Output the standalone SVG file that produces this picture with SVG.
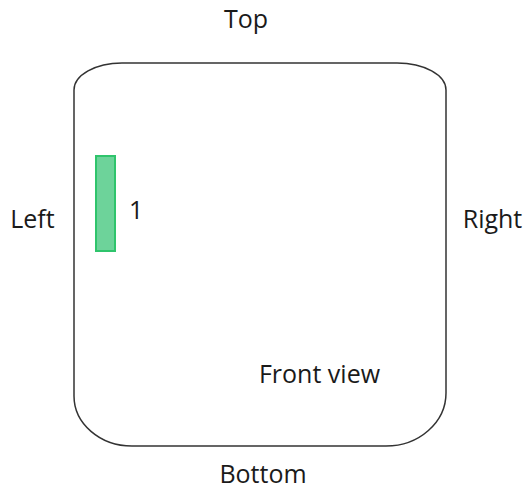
<svg xmlns="http://www.w3.org/2000/svg" width="530" height="494" viewBox="0 0 530 494">
<style>
text{font-family:"Open Sans","Noto Sans","Liberation Sans",sans-serif;font-size:25px;fill:#1a1a1a}
.frame{fill:#fff;stroke:#333;stroke-width:1.5}
.bar{fill:#6dd39a;stroke:#2fc46c;stroke-width:2}
</style>
<rect width="530" height="494" fill="#fff"/>
<g id="front-view">
<path class="frame" d="M 122 63 L 397 63 A 49 27 0 0 1 446 90 L 446 393 A 60 53 0 0 1 386 446 L 132 446 A 58 50 0 0 1 74 396 L 74 90 A 48 27 0 0 1 122 63 Z"/>
<text x="319.5" y="383" text-anchor="middle">Front view</text>
</g>
<g id="item-1">
<rect class="bar" x="96" y="156" width="19" height="95"/>
<text x="129" y="219">1</text>
</g>
<g id="labels">
<text x="246" y="28" text-anchor="middle">Top</text>
<text x="32.5" y="228" text-anchor="middle">Left</text>
<text x="492.5" y="228" text-anchor="middle">Right</text>
<text x="263" y="483" text-anchor="middle">Bottom</text>
</g>
<g id="connectors"/>
</svg>
